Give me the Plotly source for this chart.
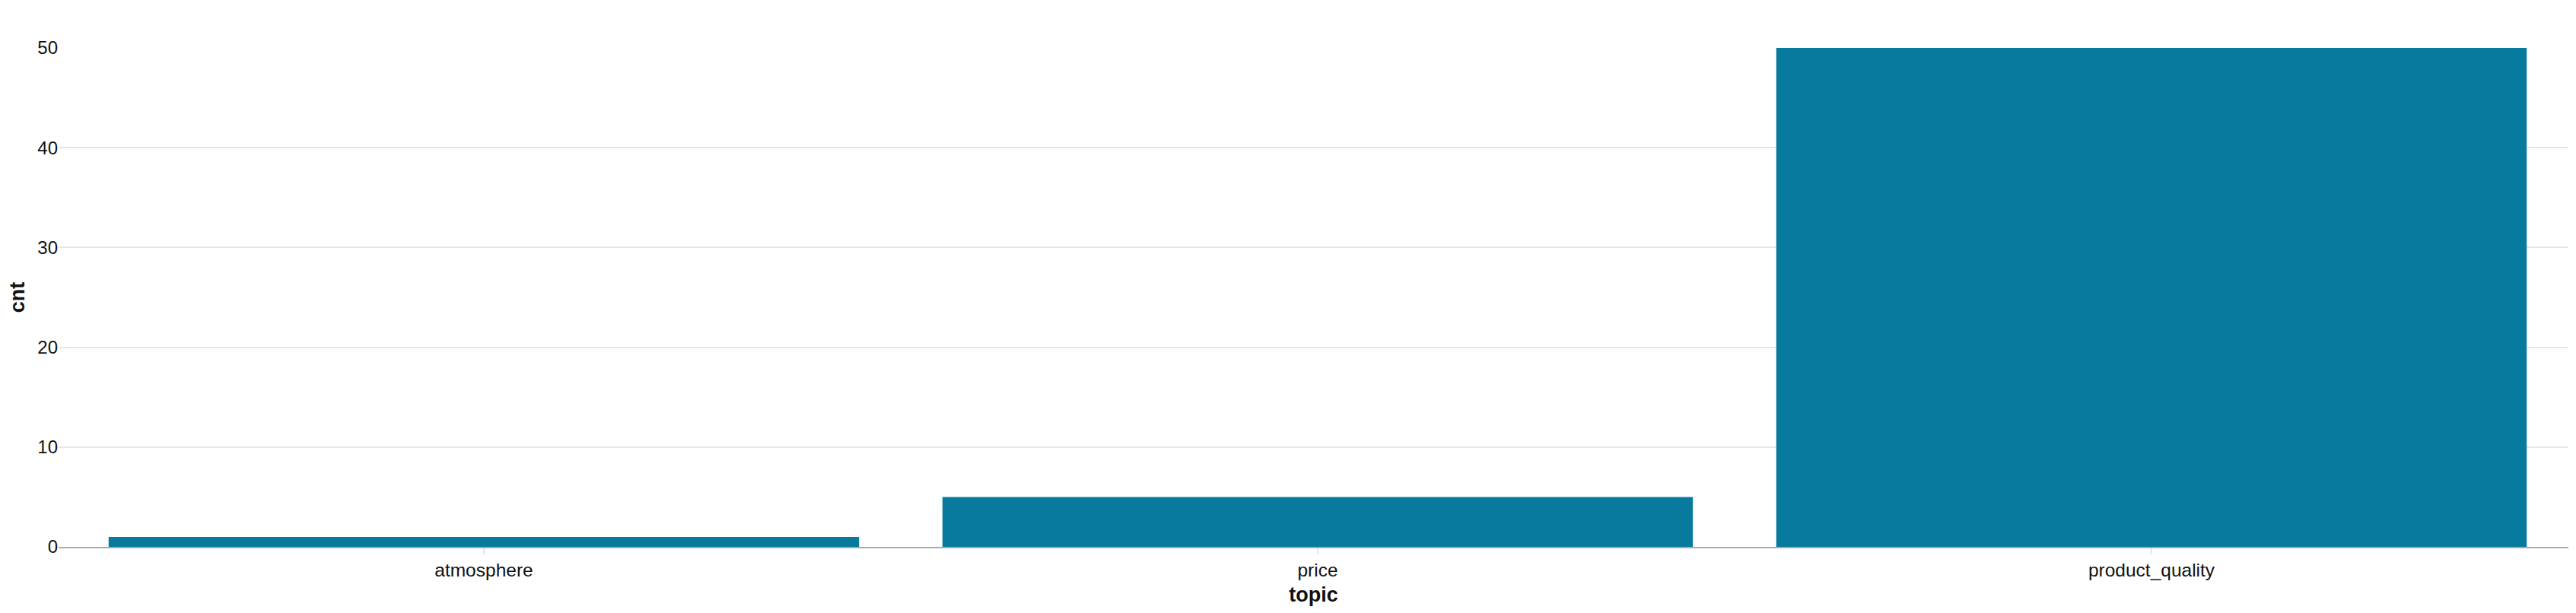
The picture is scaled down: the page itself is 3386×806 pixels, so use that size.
import plotly.graph_objects as go

# categories and counts
topics = ["atmosphere", "price", "product_quality"]
cnt = [1, 5, 50]

bar_color = "#077A9E"
text_color = "#111111"

fig = go.Figure(
    go.Bar(x=topics, y=cnt, marker=dict(color=bar_color, line=dict(width=0)))
)

# page body adds 8px around the figure, so size it a bit smaller than the window
fig.update_layout(
    width=3378,
    height=798,
    margin=dict(l=69, r=10, t=55, b=87),
    paper_bgcolor="white",
    plot_bgcolor="white",
    bargap=0.1,
    showlegend=False,
    font=dict(family="Liberation Sans, Arial, Helvetica, sans-serif", color=text_color, size=24),
)

fig.update_xaxes(
    title=dict(text="<b>topic</b>", font=dict(size=27), standoff=10),
    range=[-0.51, 2.5],
    showgrid=False,
    showline=True,
    linecolor="#aaaaaa",
    linewidth=2,
    ticks="outside",
    ticklen=8,
    tickwidth=2,
    tickcolor="#e6e6e6",
    tickfont=dict(size=24.5),
    automargin=False,
)

fig.update_yaxes(
    title=dict(text="<b>cnt</b>", font=dict(size=27), standoff=13),
    range=[0, 50],
    dtick=10,
    showgrid=True,
    gridcolor="#e6e6e6",
    gridwidth=2,
    zeroline=False,
    ticks="",
    tickfont=dict(size=24),
    automargin=False,
)

fig.write_html("out.html")
